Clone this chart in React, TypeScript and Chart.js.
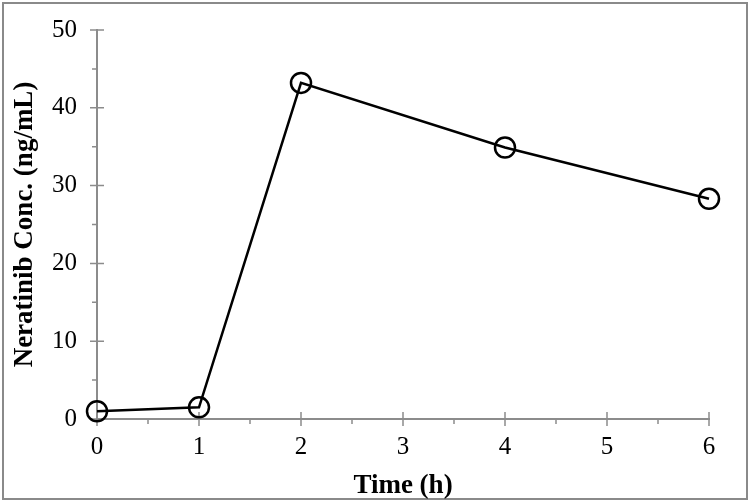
import React, { useEffect, useRef } from "react";
import { Chart, registerables } from "chart.js";

Chart.register(...registerables);

const timeHours = [0, 1, 2, 4, 6];
const concentration = [1.0, 1.5, 43.2, 34.9, 28.3];
const xTicks = [0, 1, 2, 3, 4, 5, 6];
const xMinorTicks = [0.5, 1.5, 2.5, 3.5, 4.5, 5.5];
const yTicks = [0, 10, 20, 30, 40, 50];
const yMinorTicks = [5, 15, 25, 35, 45];

const AXIS_GRAY = "#8c8c8c";
const FONT = "'Liberation Serif', 'Times New Roman', serif";

const tickPlugin = {
  id: "crossTicks",
  beforeDraw(chart: any) {
    const { ctx, width, height } = chart;
    ctx.save();
    ctx.fillStyle = "#ffffff";
    ctx.fillRect(0, 0, width, height);
    ctx.strokeStyle = "#8a8a8a";
    ctx.lineWidth = 2;
    ctx.strokeRect(3, 3, width - 6, height - 6);
    ctx.restore();
  },
  beforeDatasetsDraw(chart: any) {
    const { ctx, scales } = chart;
    const xs = scales.x;
    const ys = scales.y;
    const y0 = ys.getPixelForValue(0);
    const x0 = xs.getPixelForValue(0);
    ctx.save();
    ctx.strokeStyle = AXIS_GRAY;
    ctx.lineWidth = 1.5;
    ctx.beginPath();
    xTicks.forEach((v) => {
      const px = xs.getPixelForValue(v);
      ctx.moveTo(px, y0 - 7);
      ctx.lineTo(px, y0 + 7);
    });
    xMinorTicks.forEach((v) => {
      const px = xs.getPixelForValue(v);
      ctx.moveTo(px, y0);
      ctx.lineTo(px, y0 + 5);
    });
    yTicks.forEach((v) => {
      const py = ys.getPixelForValue(v);
      ctx.moveTo(x0 - 7, py);
      ctx.lineTo(x0 + 7, py);
    });
    yMinorTicks.forEach((v) => {
      const py = ys.getPixelForValue(v);
      ctx.moveTo(x0 - 5, py);
      ctx.lineTo(x0, py);
    });
    ctx.stroke();
    ctx.restore();
  },
};

export default function App() {
  const canvasRef = useRef<HTMLCanvasElement | null>(null);

  useEffect(() => {
    if (!canvasRef.current) return;
    const chart = new Chart(canvasRef.current, {
      type: "line",
      data: {
        datasets: [
          {
            label: "Neratinib",
            data: timeHours.map((t, i) => ({ x: t, y: concentration[i] })),
            borderColor: "#000000",
            borderWidth: 2.5,
            pointRadius: 10,
            pointBorderWidth: 2.5,
            pointBorderColor: "#000000",
            pointBackgroundColor: "rgba(0,0,0,0)",
            fill: false,
            tension: 0,
            clip: false as any,
          },
        ],
      },
      options: {
        responsive: false,
        animation: false,
        layout: { padding: { left: 0, right: 41, top: 30, bottom: 0 } },
        plugins: {
          legend: { display: false },
          tooltip: { enabled: false },
        },
        scales: {
          x: {
            type: "linear",
            min: 0,
            max: 6,
            afterFit: (scale: any) => {
              scale.height = 83;
            },
            afterBuildTicks: (scale: any) => {
              scale.ticks = xTicks.map((v) => ({ value: v }));
            },
            grid: {
              display: true,
              drawOnChartArea: false,
              drawTicks: true,
              tickLength: 13,
              tickColor: "rgba(0,0,0,0)",
              color: "rgba(0,0,0,0)",
            },
            border: { display: true, color: AXIS_GRAY, width: 2 },
            ticks: {
              padding: 0,
              color: "#000000",
              font: { family: FONT, size: 25 },
            },
            title: {
              display: true,
              text: "Time (h)",
              color: "#000000",
              font: { family: FONT, size: 27, weight: "bold" },
              padding: { top: 0, bottom: 0 },
            },
          },
          y: {
            type: "linear",
            min: 0,
            max: 50,
            afterFit: (scale: any) => {
              scale.width = 97;
            },
            afterBuildTicks: (scale: any) => {
              scale.ticks = yTicks.map((v) => ({ value: v }));
            },
            grid: {
              display: true,
              drawOnChartArea: false,
              drawTicks: true,
              tickLength: 20,
              tickColor: "rgba(0,0,0,0)",
              color: "rgba(0,0,0,0)",
            },
            border: { display: true, color: AXIS_GRAY, width: 2 },
            ticks: {
              padding: 0,
              color: "#000000",
              font: { family: FONT, size: 25 },
            },
            title: {
              display: true,
              text: "Neratinib Conc. (ng/mL)",
              color: "#000000",
              font: { family: FONT, size: 27, weight: "bold" },
              padding: { top: 9, bottom: 0 },
            },
          },
        },
      },
      plugins: [tickPlugin],
    });
    return () => chart.destroy();
  }, []);

  return (
    <div style={{ position: "absolute", left: 0, top: 0, width: 750, height: 502 }}>
      <canvas ref={canvasRef} width={750} height={502} style={{ display: "block" }} />
    </div>
  );
}
